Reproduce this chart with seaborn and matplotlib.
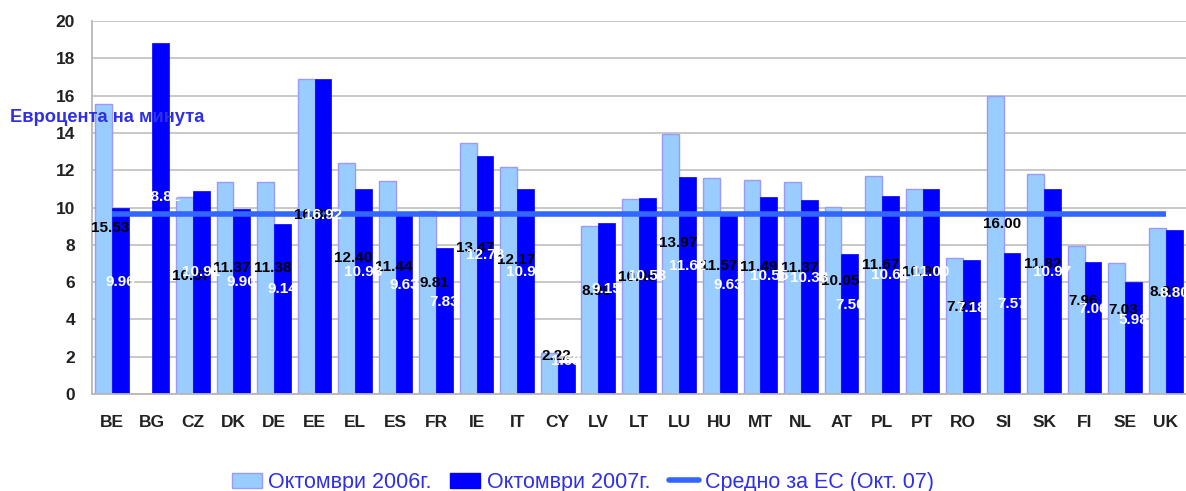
import matplotlib
matplotlib.use("Agg")
import matplotlib.pyplot as plt
import numpy as np
import pandas as pd
import seaborn as sns
from matplotlib.patches import Patch
from matplotlib.lines import Line2D

# data (euro cents per minute)
countries = ["BE", "BG", "CZ", "DK", "DE", "EE", "EL", "ES", "FR", "IE", "IT", "CY", "LV", "LT",
             "LU", "HU", "MT", "NL", "AT", "PL", "PT", "RO", "SI", "SK", "FI", "SE", "UK"]
oct_2006 = [15.53, np.nan, 10.57, 11.37, 11.38, 16.88, 12.40, 11.44, 9.81, 13.47, 12.17, 2.22, 8.99, 10.46,
            13.97, 11.57, 11.49, 11.37, 10.05, 11.67, 10.99, 7.27, 16.00, 11.82, 7.96, 7.03, 8.91]
oct_2007 = [9.96, 18.82, 10.91, 9.90, 9.14, 16.92, 10.98, 9.63, 7.83, 12.78, 10.98, 1.68, 9.15, 10.53,
            11.62, 9.63, 10.55, 10.38, 7.50, 10.61, 11.00, 7.18, 7.57, 10.97, 7.06, 5.98, 8.80]
eu_avg = 9.66

series_names = ["Октомври 2006г.", "Октомври 2007г."]
avg_name = "Средно за ЕС (Окт. 07)"
ylabel_text = "Евроцента на минута"

LIGHT = "#99CCFF"
LIGHT_EDGE = "#9999FF"
DARK = "#0000FF"
LINE = "#3366FF"
TEXT_BLUE = "#2f2fe8"

df = pd.DataFrame({
    "country": countries * 2,
    "value": oct_2006 + oct_2007,
    "year": [series_names[0]] * len(countries) + [series_names[1]] * len(countries),
})

sns.set_style("white")
plt.rcParams["font.family"] = ["Liberation Sans", "DejaVu Sans"]

fig = plt.figure(figsize=(11.86, 4.91), dpi=100)
ax = fig.add_axes([0.0772, 0.1976, 0.9228, 0.7594])

sns.barplot(data=df, x="country", y="value", hue="year", order=countries,
            hue_order=series_names, palette=[LIGHT, DARK], width=0.83,
            saturation=1, legend=False, ax=ax)

for bar in ax.containers[0]:
    bar.set_edgecolor(LIGHT_EDGE)
    bar.set_linewidth(1.0)
for bar in ax.containers[1]:
    bar.set_edgecolor(DARK)
    bar.set_linewidth(0.5)

# EU average line, centre of first category to centre of last
xs = np.arange(len(countries))
ax.plot(xs, [eu_avg] * len(countries), color=LINE, lw=4.0, solid_capstyle="butt", zorder=4)

# value labels (placed as in the original, roughly half-way up the bars)
for container, col, dx in [(ax.containers[0], "black", 0.17), (ax.containers[1], "white", 0.0)]:
    for bar in container:
        h = bar.get_height()
        if np.isnan(h) or h == 0:
            continue
        xc = bar.get_x() + bar.get_width() / 2 + dx
        ax.text(xc, 0.514 * h + 0.91, f"{h:.2f}", ha="center", va="center",
                color=col, fontsize=11, fontweight="bold", zorder=6)

ax.set_ylim(0, 20)
ax.set_yticks(np.arange(0, 21, 2))
ax.set_xlim(-0.5, 26.26)
ax.set_xlabel("")
ax.set_ylabel("")

ax.yaxis.grid(True, color="#C4C4C4", lw=1.3)
ax.set_axisbelow(True)
for s in ["top", "right"]:
    ax.spines[s].set_visible(False)
for s in ["left", "bottom"]:
    ax.spines[s].set_color("#B8B8B8")
    ax.spines[s].set_linewidth(1.3)

ax.set_xticks(np.arange(-0.5, len(countries), 1), minor=True)
ax.tick_params(axis="x", which="major", length=0, pad=15, labelsize=12.5, labelcolor="#222222")
ax.tick_params(axis="x", which="minor", length=6, width=1.3, color="#B8B8B8")
ax.tick_params(axis="y", length=4, width=1.3, color="#B8B8B8", pad=8, labelsize=12.5, labelcolor="#222222")
for lab in ax.get_xticklabels() + ax.get_yticklabels():
    lab.set_fontweight("bold")

fig.text(10 / 1186, 1 - 117 / 491, ylabel_text, ha="left", va="center",
         color=TEXT_BLUE, fontsize=13.2, fontweight="bold")

handles = [
    Patch(facecolor=LIGHT, edgecolor=LIGHT_EDGE, label=series_names[0]),
    Patch(facecolor=DARK, edgecolor=DARK, label=series_names[1]),
    Line2D([0], [0], color=LINE, lw=4, label=avg_name),
]
fig.legend(handles=handles, loc="center", bbox_to_anchor=(0.4916, 0.018), ncol=3,
           frameon=False, fontsize=15.5, labelcolor=TEXT_BLUE, handlelength=1.4,
           handletextpad=0.3, columnspacing=0.85, borderaxespad=0)

fig.savefig("out.png", dpi=100)
